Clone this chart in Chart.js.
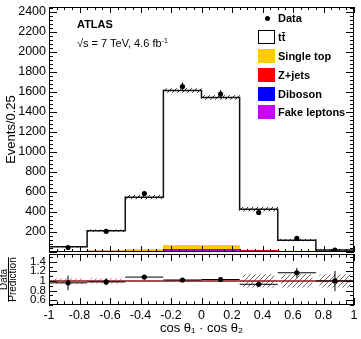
<!DOCTYPE html>
<html>
<head>
<meta charset="utf-8">
<script src="https://cdn.jsdelivr.net/npm/chart.js@4.4.1/dist/chart.umd.min.js"></script>
<style>
  body { margin: 0; background: #fff; width: 361px; height: 339px; overflow: hidden; position: relative;
         font-family: 'Liberation Sans', Arial, sans-serif; }
  canvas { position: absolute; left: 0; }
  #main { top: 0; }
  #ratio { top: 250px; }
  .txt { position: absolute; white-space: nowrap; line-height: 1; color: #000; font-size: 11px; }
  .leg { position: absolute; left: 278px; white-space: nowrap; font-weight: bold; font-size: 11px; line-height: 1; }
  .box { position: absolute; left: 258px; width: 17px; height: 14px; box-sizing: border-box; }
  .dot { position: absolute; left: 264.5px; top: 15.5px; width: 5px; height: 5px; border-radius: 50%; background: #000; }
</style>
</head>
<body>
<canvas id="main" width="361" height="256"></canvas>
<canvas id="ratio" width="361" height="89"></canvas>

<div class="txt" style="left:77px;top:19px;font-weight:bold">ATLAS</div>
<div class="txt" style="left:77px;top:38px">√s = 7 TeV, 4.6 fb<span style="font-size:7px;position:relative;top:-4px">-1</span></div>

<div class="dot"></div>
<div class="leg" style="top:12.6px">Data</div>
<div class="box" style="top:30px;border:1px solid #000;background:#fff"></div>
<div class="leg" style="top:31.6px">tt̄</div>
<div class="box" style="top:49px;background:#ffcc00"></div>
<div class="leg" style="top:50.6px">Single top</div>
<div class="box" style="top:68px;background:#ff0000"></div>
<div class="leg" style="top:69.6px">Z+jets</div>
<div class="box" style="top:87px;background:#0000ff"></div>
<div class="leg" style="top:88.6px">Diboson</div>
<div class="box" style="top:105px;background:#cc00ff"></div>
<div class="leg" style="top:106.6px">Fake leptons</div>

<script>
/* ===== Data ===== */
const binEdges    = [-1, -0.75, -0.5, -0.25, 0, 0.25, 0.5, 0.75, 1];
const binCenters  = [-0.875, -0.625, -0.375, -0.125, 0.125, 0.375, 0.625, 0.875];
const dataCounts  = [45, 207, 585, 1655, 1580, 395, 136, 18];
const dataErrors  = [7, 14, 24, 41, 40, 20, 12, 4];
const predTotal   = [52, 213, 548, 1615, 1545, 428, 118, 19];
const predUnc     = [4, 8, 18, 20, 20, 20, 8, 3];
const fakeLeptons = [3, 5, 4, 20, 20, 8, 3, 1];
const diboson     = [0.5, 1, 0.5, 2, 2, 1, 0.5, 0.3];
const zJets       = [3, 3, 3, 4, 4, 7, 4, 2];
const singleTop   = [1, 3, 18, 40, 40, 4, 2, 1];
const ratioValues = [0.96, 0.98, 1.08, 1.02, 1.03, 0.93, 1.17, 1.0];
const ratioErrors = [0.15, 0.07, 0.045, 0.025, 0.025, 0.05, 0.1, 0.21];
const ratioBand   = [0.05, 0.05, 0.01, 0.01, 0.01, 0.13, 0.13, 0.13];
const mainYTicks  = [200, 400, 600, 800, 1000, 1200, 1400, 1600, 1800, 2000, 2200, 2400];
const ratioYTicks = [0.6, 0.8, 1, 1.2, 1.4];
const xTicks      = [-1, -0.8, -0.6, -0.4, -0.2, 0, 0.2, 0.4, 0.6, 0.8, 1];

const FONT = "'Liberation Sans', Arial, sans-serif";
const halfWidths = binCenters.map((c, i) => (binEdges[i + 1] - binEdges[i]) / 2);

/* hatch pattern for uncertainty bands */
function hatch(color) {
  const c = document.createElement('canvas');
  c.width = c.height = 5;
  const g = c.getContext('2d');
  g.strokeStyle = color;
  g.lineWidth = 1;
  g.beginPath();
  g.moveTo(0, 5); g.lineTo(5, 0);
  g.moveTo(-1, 1); g.lineTo(1, -1);
  g.moveTo(4, 6); g.lineTo(6, 4);
  g.stroke();
  return g.createPattern(c, 'repeat');
}

/* axis boxes are fixed by hand, so drop the label overhang padding */
function fixWidth(s) {
  s.width = 49;
  s.paddingTop = 0;
  s.paddingBottom = 0;
}

/* ===== Plugins: error bars, ROOT-style frame with inward ticks ===== */
const errorBars = {
  id: 'errorBars',
  afterDatasetsDraw(chart) {
    const { ctx, chartArea: a } = chart;
    ctx.save();
    ctx.beginPath();
    ctx.rect(a.left, a.top, a.right - a.left, a.bottom - a.top);
    ctx.clip();
    ctx.strokeStyle = '#000';
    ctx.lineWidth = 1;
    chart.data.datasets.forEach((ds, di) => {
      if (!ds.yErr) return;
      const meta = chart.getDatasetMeta(di);
      const xs = chart.scales[meta.xAxisID], ys = chart.scales[meta.yAxisID];
      meta.data.forEach((pt, i) => {
        const v = ds.data[i];
        ctx.beginPath();
        ctx.moveTo(pt.x, ys.getPixelForValue(v.y - ds.yErr[i]));
        ctx.lineTo(pt.x, ys.getPixelForValue(v.y + ds.yErr[i]));
        if (ds.xErr) {
          ctx.moveTo(xs.getPixelForValue(v.x - ds.xErr[i]), pt.y);
          ctx.lineTo(xs.getPixelForValue(v.x + ds.xErr[i]), pt.y);
        }
        ctx.stroke();
      });
    });
    ctx.restore();
  }
};

const frameTicks = {
  id: 'frameTicks',
  afterDraw(chart, args, o) {
    const { ctx, chartArea: a, scales: { x, y } } = chart;
    ctx.save();
    ctx.strokeStyle = '#000';
    ctx.lineWidth = 1;
    ctx.strokeRect(a.left + 0.5, a.top + 0.5, a.right - a.left - 1, a.bottom - a.top - 1);
    ctx.beginPath();
    const isMajor = (v, step) => Math.abs(v / step - Math.round(v / step)) < 1e-6;
    for (let n = Math.ceil(x.min / o.xMinor - 1e-6); n <= Math.floor(x.max / o.xMinor + 1e-6); n++) {
      const v = n * o.xMinor;
      const L = isMajor(v, o.xMajor) ? o.xLen : o.xLen / 2;
      const px = Math.round(x.getPixelForValue(v)) + 0.5;
      ctx.moveTo(px, a.bottom); ctx.lineTo(px, a.bottom - L);
      ctx.moveTo(px, a.top); ctx.lineTo(px, a.top + L);
    }
    for (let n = Math.ceil(y.min / o.yMinor - 1e-6); n <= Math.floor(y.max / o.yMinor + 1e-6); n++) {
      const v = n * o.yMinor;
      const L = isMajor(v, o.yMajor) ? o.yLen : o.yLen / 2;
      const py = Math.round(y.getPixelForValue(v)) + 0.5;
      ctx.moveTo(a.left, py); ctx.lineTo(a.left + L, py);
      ctx.moveTo(a.right, py); ctx.lineTo(a.right - L, py);
    }
    ctx.stroke();
    if (o.fraction) {
      /* fraction bar between "Data" and "Prediction" */
      ctx.font = '10px ' + FONT;
      const w = ctx.measureText('Prediction').width;
      const cy = (a.top + a.bottom) / 2;
      ctx.beginPath();
      ctx.moveTo(y.left + 8.5, cy - w / 2);
      ctx.lineTo(y.left + 8.5, cy + w / 2);
      ctx.stroke();
    }
    ctx.restore();
  }
};

Chart.register(errorBars, frameTicks);

const tickFont = { family: FONT, size: 12.5 };
const fmt = v => String(Math.round(v * 100) / 100);

/* ===== Main panel ===== */
let base = binCenters.map(() => 0);
const stackSets = [
  ['Fake leptons', fakeLeptons, '#cc00ff'],
  ['Diboson', diboson, '#0000ff'],
  ['Z+jets', zJets, '#ff0000'],
  ['Single top', singleTop, '#ffcc00']
].map(([label, vals, color]) => {
  const lo = base.slice();
  base = base.map((b, i) => b + vals[i]);
  return {
    type: 'bar', label, order: 4, grouped: false,
    data: binCenters.map((x, i) => ({ x, y: [lo[i], base[i]] })),
    backgroundColor: color, borderWidth: 0,
    barPercentage: 1, categoryPercentage: 1
  };
});

new Chart(document.getElementById('main'), {
  type: 'bar',
  data: {
    datasets: [
      {
        type: 'scatter', label: 'Data', order: 0,
        data: binCenters.map((x, i) => ({ x, y: dataCounts[i] })),
        yErr: dataErrors,
        pointRadius: 2.6, pointBackgroundColor: '#000', pointBorderWidth: 0
      },
      {
        type: 'line', label: 'tt', order: 1,
        data: binEdges.map((x, i) => ({ x, y: predTotal[Math.min(i, predTotal.length - 1)] })),
        stepped: 'before', borderColor: '#111', borderWidth: 1.5, pointRadius: 0, fill: false
      },
      {
        type: 'bar', label: 'Uncertainty', order: 2, grouped: false,
        data: binCenters.map((x, i) => ({ x, y: [predTotal[i] - predUnc[i], predTotal[i] + predUnc[i]] })),
        backgroundColor: hatch('#333'), borderWidth: 0,
        barPercentage: 1, categoryPercentage: 1
      },
      ...stackSets
    ]
  },
  options: {
    responsive: false,
    animation: false,
    layout: { padding: { left: 0, right: 7, top: 7, bottom: 2 } },
    plugins: {
      legend: { display: false },
      tooltip: { enabled: false },
      frameTicks: { xMajor: 0.2, xMinor: 0.05, xLen: 6, yMajor: 200, yMinor: 40, yLen: 8 }
    },
    scales: {
      x: { type: 'linear', display: false, min: -1, max: 1, offset: false },
      y: {
        min: 0, max: 2450,
        afterFit: fixWidth,
        afterBuildTicks: s => { s.ticks = mainYTicks.map(value => ({ value })); },
        grid: { display: false, drawTicks: false },
        border: { display: false },
        ticks: { padding: 3, color: '#000', font: tickFont, autoSkip: false, callback: fmt },
        title: { display: true, text: 'Events/0.25', color: '#000', font: { family: FONT, size: 13 }, padding: { top: 4, bottom: 0 } }
      }
    }
  }
});

/* ===== Ratio panel ===== */
const bandColors = ratioBand.map(b => b > 0.1 ? hatch('#666') : hatch('#e07070'));

new Chart(document.getElementById('ratio'), {
  type: 'bar',
  data: {
    datasets: [
      {
        type: 'scatter', label: 'Data/Prediction', order: 0,
        data: binCenters.map((x, i) => ({ x, y: ratioValues[i] })),
        yErr: ratioErrors, xErr: halfWidths,
        pointRadius: 2.6, pointBackgroundColor: '#000', pointBorderWidth: 0
      },
      {
        type: 'line', label: 'Unity', order: 1,
        data: [{ x: binEdges[0], y: 1 }, { x: binEdges[binEdges.length - 1], y: 1 }],
        borderColor: '#8b1a1a', borderWidth: 1.5, pointRadius: 0, fill: false
      },
      {
        type: 'bar', label: 'Uncertainty', order: 2, grouped: false,
        data: binCenters.map((x, i) => ({ x, y: [1 - ratioBand[i], 1 + ratioBand[i]] })),
        backgroundColor: bandColors, borderWidth: 0,
        barPercentage: 1, categoryPercentage: 1
      }
    ]
  },
  options: {
    responsive: false,
    animation: false,
    layout: { padding: { left: 0, right: 7, top: 4, bottom: 0 } },
    plugins: {
      legend: { display: false },
      tooltip: { enabled: false },
      frameTicks: { xMajor: 0.2, xMinor: 0.05, xLen: 7, yMajor: 0.2, yMinor: 0.1, yLen: 8, fraction: true }
    },
    scales: {
      x: {
        type: 'linear', min: -1, max: 1, offset: false,
        afterFit: s => { s.height = 34; s.paddingLeft = 0; s.paddingRight = 0; },
        afterBuildTicks: s => { s.ticks = xTicks.map(value => ({ value })); },
        grid: { display: false, drawTicks: false },
        border: { display: false },
        ticks: { padding: 3, color: '#000', font: tickFont, maxRotation: 0, autoSkip: false, callback: fmt },
        title: { display: true, text: 'cos θ₁ · cos θ₂', color: '#000', font: { family: FONT, size: 13 }, padding: { top: 0, bottom: 3 } }
      },
      y: {
        min: 0.5, max: 1.56,
        afterFit: fixWidth,
        afterBuildTicks: s => { s.ticks = ratioYTicks.map(value => ({ value })); },
        grid: { display: false, drawTicks: false },
        border: { display: false },
        ticks: { padding: 3, color: '#000', font: { family: FONT, size: 11.5 }, autoSkip: false, callback: fmt },
        title: { display: true, text: ['Data', 'Prediction'], color: '#000', font: { family: FONT, size: 10, lineHeight: 0.85 }, padding: { top: 0, bottom: 0 } }
      }
    }
  }
});
</script>
</body>
</html>
